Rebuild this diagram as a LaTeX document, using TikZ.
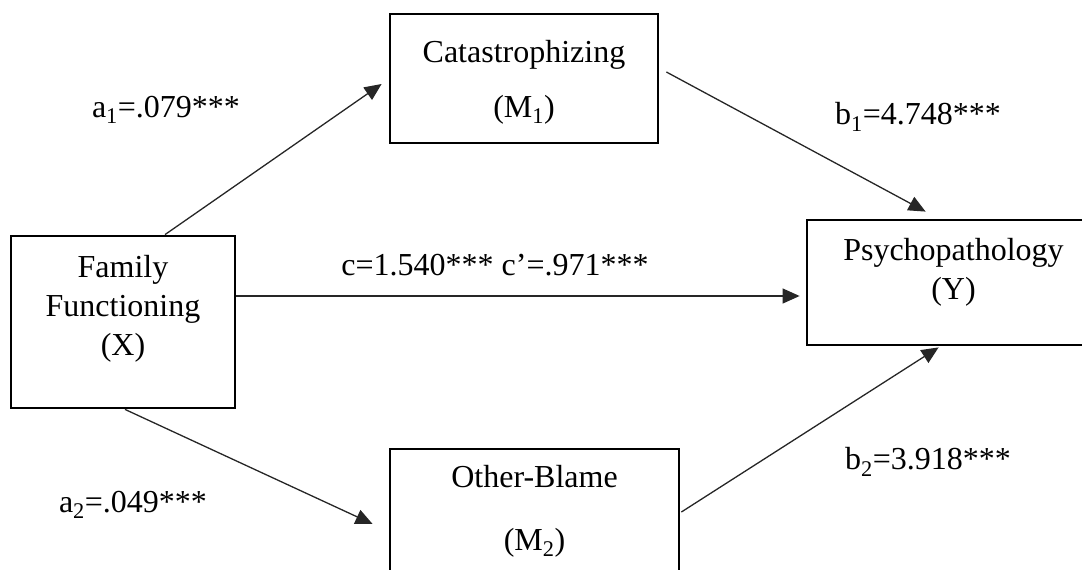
\documentclass[tikz,border=0pt]{standalone}
\usepackage{fontspec}
\setmainfont{Liberation Serif}
\usetikzlibrary{arrows.meta}
\tikzset{
  >={Triangle[length=17pt,width=15pt]},
  link/.style={->, line width=1.3pt, draw=black!85},
  varbox/.style={draw=black, line width=2.8pt, fill=white, inner sep=0pt},
  boxtext/.style={align=center, font=\fontsize{32}{39}\selectfont},
  coef/.style={font=\fontsize{32}{39}\selectfont}
}
\begin{document}
\begin{tikzpicture}[x=1pt,y=-1pt]
\useasboundingbox (0,0) rectangle (1082,570);
\clip (0,0) rectangle (1082,570);
% variables
\node[varbox,minimum width=268pt,minimum height=129pt] (catas) at (524,78.5) {};
\node[varbox,minimum width=224pt,minimum height=172pt] (famfun) at (123,322) {};
\node[varbox,minimum width=293pt,minimum height=125pt] (psych) at (953.5,282.5) {};
\node[varbox,minimum width=289pt,minimum height=141pt] (otherb) at (534.5,519.5) {};
\node[boxtext,yshift=-4pt] (catastext) at (catas) {Catastrophizing\\[16pt](M\textsubscript{1})};
\node[boxtext,yshift=13pt] (famfuntext) at (famfun) {Family\\Functioning\\(X)};
\node[boxtext,yshift=10.5pt] (psychtext) at (psych) {Psychopathology\\(Y)};
\node[boxtext,yshift=8pt] (otherbtext) at (otherb) {Other-Blame\\[24pt](M\textsubscript{2})};
% paths
\draw[link] ([xshift=42pt]famfun.north) -- ([shift={(-7,5.5)}]catas.west);
\draw[link] ([shift={(7,-6.5)}]catas.east) -- ([shift={(120,-7)}]psych.north west);
\draw[link] ([yshift=26pt]famfun.east) -- ([shift={(-6,13.5)}]psych.west);
\draw[link] ([xshift=2pt]famfun.south) -- ([shift={(-16,4.5)}]otherb.west);
\draw[link] ([shift={(1,-7.5)}]otherb.east) -- ([shift={(133,1)}]psych.south west);
% coefficients
\node[coef] (apath1) at (166,110) {a\textsubscript{1}=.079***};
\node[coef] (bpath1) at (918,117) {b\textsubscript{1}=4.748***};
\node[coef] (cpath) at (495,265) {c=1.540*** c’=.971***};
\node[coef] (apath2) at (133,505) {a\textsubscript{2}=.049***};
\node[coef] (bpath2) at (928,462) {b\textsubscript{2}=3.918***};
\end{tikzpicture}
\end{document}
